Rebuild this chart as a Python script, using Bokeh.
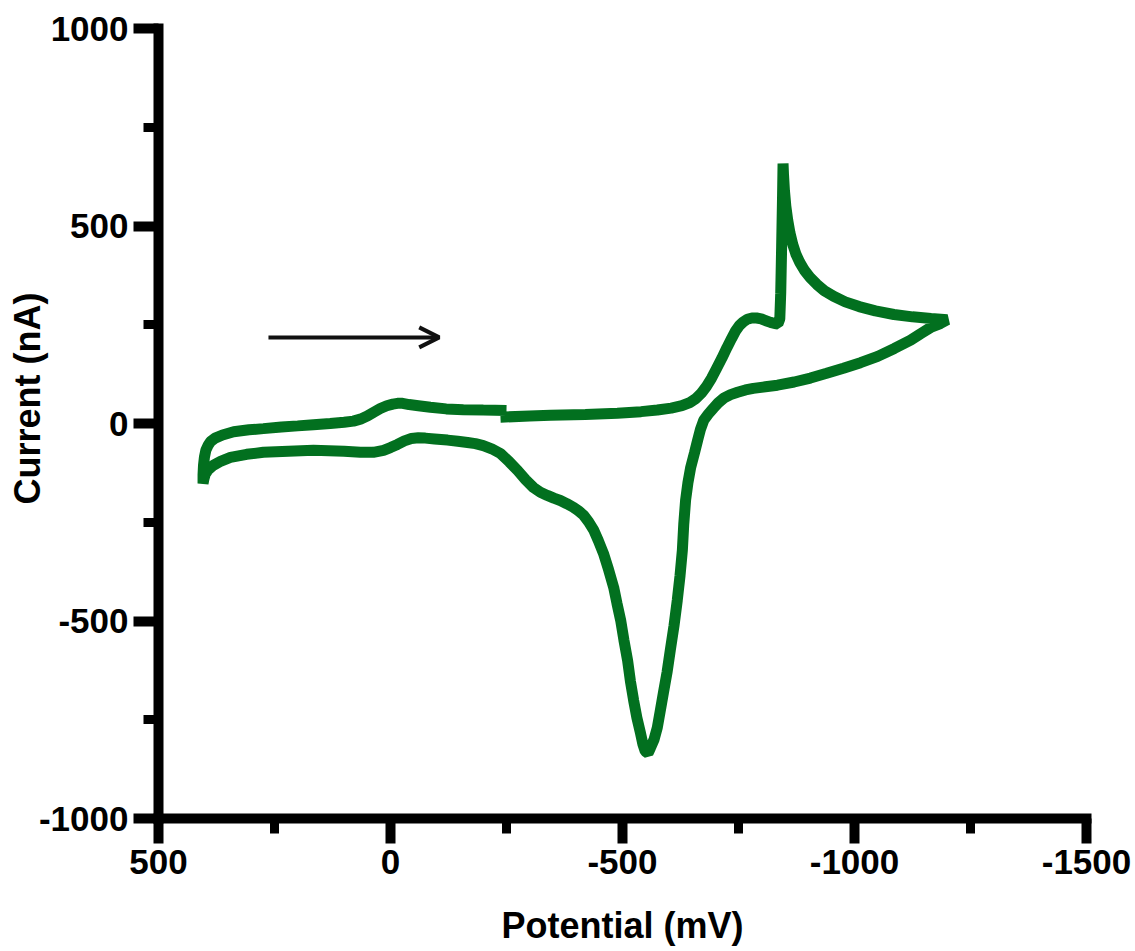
from bokeh.plotting import figure
from bokeh.models import Range1d, FixedTicker, Arrow, OpenHead, CustomJSTickFormatter
from bokeh.embed import file_html
from bokeh.resources import INLINE

# Forward scan (start -> switching potential)
pot_fwd = [-237, -300, -345, -420, -489, -540, -575, -605, -628, -645,
           -658, -670, -681, -692, -703, -714, -725, -735, -744, -752,
           -760, -769, -779, -789, -799, -809, -819, -828, -835, -839,
           -841, -843, -845, -846, -847, -849, -852, -856, -861, -867,
           -874, -882, -892, -904, -919, -935, -955, -980, -1010, -1045,
           -1085, -1125, -1165, -1200]
cur_fwd = [16, 19, 21, 23, 26, 30, 34, 39, 45, 53,
           63, 77, 94, 115, 140, 165, 192, 215, 235, 248,
           257, 264, 267, 267, 265, 260, 256, 253, 252, 265,
           330, 450, 580, 658, 630, 590, 550, 515, 482, 453,
           428, 408, 388, 370, 352, 336, 322, 308, 296, 285,
           276, 270, 266, 263]

# Reverse scan (switching potential -> +404 mV)
pot_rev = [-1185, -1164, -1142, -1121, -1086, -1050, -1013, -976, -940, -905,
           -870, -834, -808, -782, -765, -748, -733, -718, -706, -696,
           -685, -675, -668, -662, -655, -647, -641, -636, -632, -629,
           -624, -618, -611, -603, -596, -588, -581, -575, -568, -560,
           -555, -549, -544, -539, -531, -524, -517, -511, -503, -496,
           -488, -481, -470, -459, -448, -438, -427, -416, -405, -394,
           -380, -366, -352, -338, -323, -308, -291, -274, -256, -237,
           -218, -200, -183, -166, -145, -123, -95, -75, -60, -45,
           -30, -15, 0, 15, 37, 65, 100, 166, 220, 274,
           310, 345, 365, 382, 393, 399, 402, 404]
cur_rev = [253, 243, 227, 211, 190, 170, 154, 140, 127, 115,
           105, 97, 93, 89, 85, 79, 73, 64, 52, 39,
           24, 8, -15, -42, -75, -111, -150, -194, -255, -321,
           -385, -448, -512, -574, -630, -683, -730, -770, -800, -822,
           -835, -830, -812, -785, -745, -701, -652, -600, -548, -498,
           -455, -415, -370, -329, -297, -270, -249, -232, -221, -212,
           -203, -195, -189, -182, -174, -162, -142, -119, -97, -76,
           -64, -56, -51, -48, -45, -42, -39, -37, -36, -38,
           -44, -53, -61, -68, -73, -73, -70, -68, -70, -73,
           -78, -86, -95, -106, -117, -128, -140, -152]

# Return scan (+404 mV -> end)
pot_ret = [404, 403, 401, 398, 393, 388, 378, 362, 338, 305,
           274, 235, 200, 166, 130, 100, 80, 65, 50, 37,
           22, 8, -5, -15, -26, -40, -60, -86, -120, -157,
           -200, -250]
cur_ret = [-130, -106, -85, -68, -55, -46, -37, -29, -21, -16,
           -13, -9, -6, -3, 0, 3, 6, 11, 19, 28,
           38, 45, 49, 51, 51, 48, 45, 41, 37, 35,
           34, 33]

x_major = [500, 0, -500, -1000, -1500]
x_minor = [250, -250, -750, -1250]
y_major = [-1000, -500, 0, 500, 1000]
y_minor = [-750, -250, 250, 750]

arrow_x0, arrow_x1, arrow_y = 263, -105, 218

potential = pot_fwd + pot_rev + pot_ret
current = cur_fwd + cur_rev + cur_ret

p = figure(width=1135, height=951, x_range=Range1d(500, -1500), y_range=Range1d(-1000, 1000),
           output_backend="svg", toolbar_location=None,
           min_border_left=158, min_border_right=49, min_border_top=28, min_border_bottom=133)

p.line(potential, current, line_width=11, line_color="#02701f", line_join="bevel")

p.add_layout(Arrow(end=OpenHead(size=20, line_width=4, line_color="#111111"),
                   x_start=arrow_x0, y_start=arrow_y, x_end=arrow_x1, y_end=arrow_y,
                   line_width=4, line_color="#111111"))

p.xgrid.visible = False
p.ygrid.visible = False
p.outline_line_color = None
p.background_fill_color = "white"
p.border_fill_color = "white"

p.xaxis.ticker = FixedTicker(ticks=x_major, minor_ticks=x_minor)
p.yaxis.ticker = FixedTicker(ticks=y_major, minor_ticks=y_minor)
fmt = CustomJSTickFormatter(code="return tick.toFixed(0);")
p.xaxis.formatter = fmt
p.yaxis.formatter = fmt

for ax in (p.xaxis[0], p.yaxis[0]):
    ax.axis_line_width = 10
    ax.axis_line_color = "black"
    ax.axis_line_cap = "square"
    ax.major_tick_line_width = 10
    ax.major_tick_line_color = "black"
    ax.major_tick_out = 25
    ax.major_tick_in = 0
    ax.minor_tick_line_width = 9
    ax.minor_tick_line_color = "black"
    ax.minor_tick_out = 15
    ax.minor_tick_in = 0
    ax.major_label_text_font = "Liberation Sans"
    ax.major_label_text_font_style = "bold"
    ax.major_label_text_font_size = "35px"
    ax.major_label_text_color = "black"
    ax.axis_label_text_font = "Liberation Sans"
    ax.axis_label_text_font_style = "bold"
    ax.axis_label_text_font_size = "36px"
    ax.axis_label_text_color = "black"

p.xaxis.axis_label = "Potential (mV)"
p.yaxis.axis_label = "\u00a0" * 5 + "Current (nA)"
p.xaxis.major_label_standoff = 6
p.yaxis.major_label_standoff = 5
p.xaxis.axis_label_standoff = 28
p.yaxis.axis_label_standoff = -12

open("out.html", "w").write(file_html(p, INLINE))
